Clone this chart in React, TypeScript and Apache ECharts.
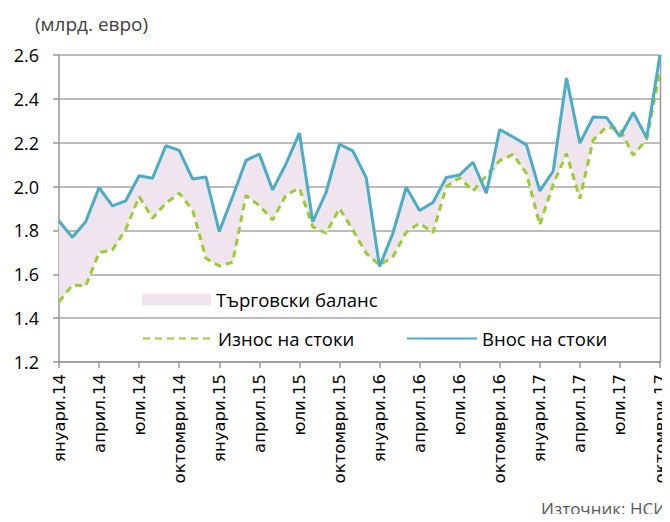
import React, { useEffect, useRef } from "react";
import * as echarts from "echarts";

const categories = [
  "януари.14", "февруари.14", "март.14", "април.14", "май.14", "юни.14", "юли.14", "август.14", "септември.14", "октомври.14", "ноември.14", "декември.14",
  "януари.15", "февруари.15", "март.15", "април.15", "май.15", "юни.15", "юли.15", "август.15", "септември.15", "октомври.15", "ноември.15", "декември.15",
  "януари.16", "февруари.16", "март.16", "април.16", "май.16", "юни.16", "юли.16", "август.16", "септември.16", "октомври.16", "ноември.16", "декември.16",
  "януари.17", "февруари.17", "март.17", "април.17", "май.17", "юни.17", "юли.17", "август.17", "септември.17", "октомври.17",
];

const importsValues = [
  1.843, 1.769, 1.84, 1.995, 1.912, 1.935, 2.049, 2.038, 2.186, 2.165,
  2.035, 2.044, 1.795, 1.954, 2.119, 2.148, 1.985, 2.104, 2.244, 1.84,
  1.974, 2.193, 2.163, 2.041, 1.635, 1.787, 1.997, 1.891, 1.927, 2.041,
  2.053, 2.111, 1.97, 2.26, 2.226, 2.19, 1.98, 2.07, 2.495, 2.198,
  2.317, 2.315, 2.228, 2.338, 2.222, 2.6,
];

const exportsValues = [
  1.475, 1.551, 1.547, 1.699, 1.711, 1.805, 1.954, 1.856, 1.924, 1.97,
  1.894, 1.673, 1.638, 1.655, 1.959, 1.913, 1.848, 1.962, 1.993, 1.817,
  1.787, 1.901, 1.802, 1.696, 1.642, 1.68, 1.792, 1.833, 1.79, 2.0,
  2.04, 1.98, 2.05, 2.118, 2.147, 2.06, 1.825, 2.01, 2.15, 1.945,
  2.213, 2.272, 2.262, 2.143, 2.215, 2.525,
];

const yTicks = { min: 1.2, max: 2.6, interval: 0.2 };

const seriesNames = {
  balance: "Търговски баланс",
  exports: "Износ на стоки",
  imports: "Внос на стоки",
};

const FONT = "'Open Sans', 'Noto Sans', sans-serif";
const BLUE = "#4BACC6";
const GREEN = "#9ACD32";
const PINK = "#F0E4EE";

export default function App() {
  const ref = useRef<HTMLDivElement>(null);

  useEffect(() => {
    if (!ref.current) return;
    const chart = echarts.init(ref.current, undefined, { renderer: "svg" });

    const lower = importsValues.map((v, i) => Math.min(v, exportsValues[i]));
    const diff = importsValues.map((v, i) => +(v - lower[i]).toFixed(4));

    const legendText = { fontSize: 18.5, color: "#000", fontFamily: FONT };

    chart.setOption({
      animation: false,
      backgroundColor: "#fff",
      textStyle: { fontFamily: FONT },
      grid: { left: 59, right: 10, top: 55, bottom: 160, containLabel: false },
      legend: [
        {
          data: [{ name: seriesNames.balance, icon: "rect" }],
          left: 137,
          top: 285,
          itemWidth: 69,
          itemHeight: 12,
          textStyle: legendText,
          selectedMode: false,
        },
        {
          data: [seriesNames.exports],
          left: 137,
          top: 324,
          itemWidth: 70,
          itemHeight: 14,
          itemStyle: { opacity: 0 },
          textStyle: legendText,
          selectedMode: false,
        },
        {
          data: [seriesNames.imports],
          left: 401,
          top: 324,
          itemWidth: 70,
          itemHeight: 14,
          itemStyle: { opacity: 0 },
          textStyle: legendText,
          selectedMode: false,
        },
      ],
      xAxis: {
        type: "category",
        data: categories,
        boundaryGap: false,
        axisLine: { show: true, lineStyle: { color: "#999", width: 1.5 } },
        axisTick: { show: true, interval: 2, length: 6, lineStyle: { color: "#999", width: 1.5 } },
        axisLabel: {
          interval: 2,
          rotate: 90,
          margin: 12,
          fontSize: 16.5,
          color: "#000",
          fontFamily: "'DejaVu Sans', sans-serif",
        },
        splitLine: { show: false },
      },
      yAxis: {
        type: "value",
        min: yTicks.min,
        max: yTicks.max,
        interval: yTicks.interval,
        axisLine: { show: true, lineStyle: { color: "#999", width: 1.5 } },
        axisTick: { show: true, length: 6, lineStyle: { color: "#999", width: 1.5 } },
        axisLabel: {
          margin: 20,
          fontSize: 18,
          color: "#000",
          fontFamily: FONT,
          formatter: (v: number) => v.toFixed(1),
        },
        splitLine: { show: true, lineStyle: { color: "#A6A6A6", width: 1.5 } },
      },
      graphic: [
        {
          type: "text",
          left: 35,
          top: 14,
          style: { text: "(млрд. евро)", fontSize: 19, fill: "#404040", fontFamily: FONT },
        },
        {
          type: "text",
          left: 541,
          top: 500,
          style: { text: "Източник: НСИ", fontSize: 17, fill: "#595959", fontFamily: FONT },
        },
        {
          type: "line",
          shape: { x1: 660.5, y1: 55, x2: 660.5, y2: 362 },
          style: { stroke: "#999", lineWidth: 1.5 },
          z: 0,
        },
      ],
      series: [
        {
          name: "_lower",
          type: "line",
          stack: "band",
          data: lower,
          symbol: "none",
          lineStyle: { width: 0, opacity: 0 },
          areaStyle: { opacity: 0 },
          silent: true,
          z: 1,
        },
        {
          name: seriesNames.balance,
          type: "line",
          stack: "band",
          data: diff,
          symbol: "none",
          color: PINK,
          itemStyle: { color: PINK },
          lineStyle: { width: 0, opacity: 0 },
          areaStyle: { color: PINK, opacity: 1 },
          silent: true,
          z: 1,
        },
        {
          name: seriesNames.exports,
          type: "line",
          data: exportsValues,
          symbol: "none",
          color: GREEN,
          lineStyle: { color: GREEN, width: 3, type: [7, 5] },
          z: 3,
        },
        {
          name: seriesNames.imports,
          type: "line",
          data: importsValues,
          symbol: "none",
          color: BLUE,
          lineStyle: { color: BLUE, width: 3 },
          z: 4,
        },
      ],
    });

    return () => chart.dispose();
  }, []);

  return <div ref={ref} style={{ width: 670, height: 522, margin: -8 }} />;
}
